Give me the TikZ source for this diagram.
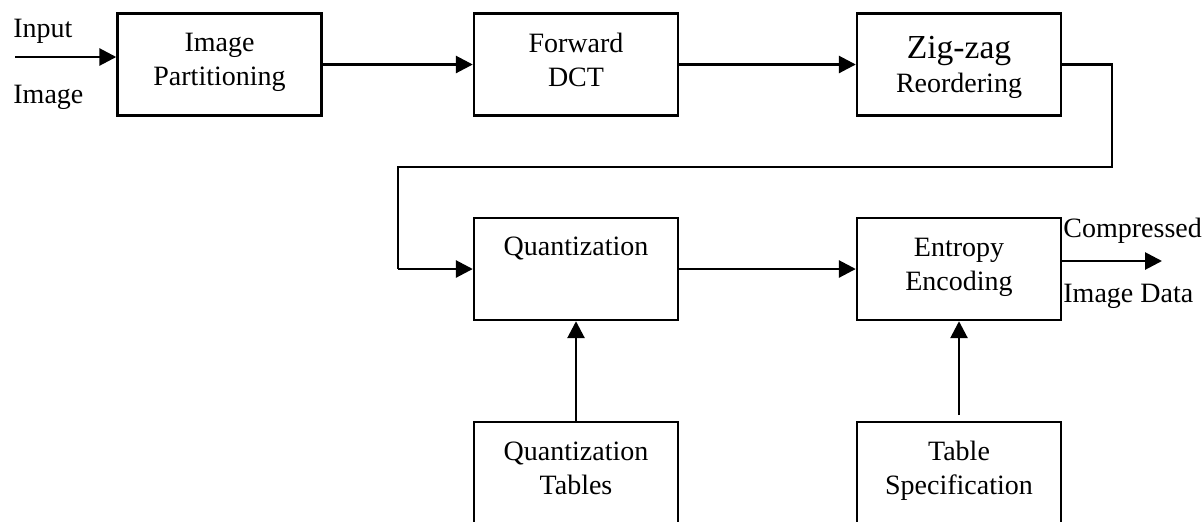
\documentclass[tikz,border=0pt]{standalone}
\usepackage{fontspec}
\setmainfont{Liberation Serif}
\usetikzlibrary{arrows.meta}
\begin{document}
\begin{tikzpicture}[x=0.5pt,y=-0.5pt,
  box/.style={draw,line width=1.2pt,minimum width=102pt,minimum height=51pt,inner sep=0pt},
  txt/.style={align=center,inner sep=0pt,font=\fontsize{14}{17}\selectfont},
  lbl/.style={inner sep=0pt,font=\fontsize{14}{17}\selectfont},
  arr/.style={line width=1.4pt,-{Triangle[length=8.5pt,width=8.5pt]}},
  ln/.style={line width=1.4pt}]
\useasboundingbox (0,0) rectangle (1202,521);
\clip (0,0) rectangle (1202,521);
% boxes
\node[box] (ip) at (219.5,64.5) {};
\node[box] (dct) at (576,64.5) {};
\node[box] (zz) at (959,64.5) {};
\node[box] (q) at (576,269) {};
\node[box] (ee) at (959,269) {};
\node[box,minimum height=60pt] (qt) at (576,482) {};
\node[box,minimum height=60pt] (ts) at (959,482) {};
% texts
\node[txt] (tip) at (219.5,62) {Image\\Partitioning};
\node[txt] (tdct) at (576,60) {Forward\\DCT};
\node[txt] (tzz) at (959,67) {{\fontsize{16.8}{17}\selectfont Zig-zag}\\Reordering};
\node[txt] (tq) at (576,248) {Quantization};
\node[txt] (tee) at (959,267) {Entropy\\Encoding};
\node[txt] (tqt) at (576,468) {Quantization\\Tables};
\node[txt] (tts) at (959,471) {Table\\Specification};
\node[lbl,anchor=base west] (tin) at (13,37) {Input};
\node[lbl,anchor=base west] (tim) at (13,103) {Image};
\node[lbl,anchor=base west] (tc) at (1063,237) {Compressed};
\node[lbl,anchor=base west] (tid) at (1063,302) {Image Data};
% connectors
\coordinate (in) at (15,57);
\draw[arr] (in) -- (in -| ip.west);
\draw[arr] (ip.east) -- (dct.west);
\draw[arr] (dct.east) -- (zz.west);
\coordinate (r1) at (1112,64.5);
\coordinate (r2) at (1112,167);
\coordinate (l1) at (398,167);
\coordinate (l2) at (398,269);
\draw[ln] (zz.east) -- (r1) -- (r2) -- (l1) -- (l2);
\draw[arr] (l2) -- (q.west);
\draw[arr] (q.east) -- (ee.west);
\draw[arr] (qt.north) -- (q.south);
\coordinate (tsn) at (959,415);
\draw[arr] (tsn) -- (ee.south);
\coordinate (out) at (1162,261);
\draw[arr] (out -| ee.east) -- (out);
\end{tikzpicture}
\end{document}
